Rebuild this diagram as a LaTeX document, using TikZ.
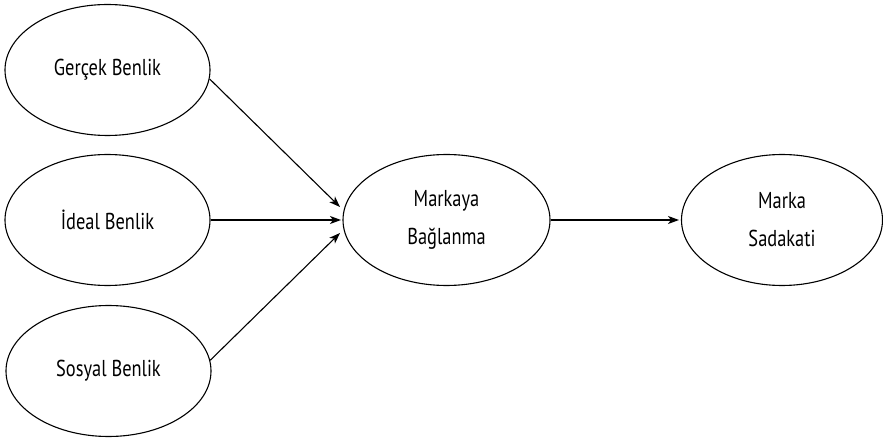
\documentclass[tikz,border=0pt]{standalone}
\usepackage{fontspec}
\setmainfont[FakeStretch=0.8]{PT Sans}
\usetikzlibrary{shapes.geometric,arrows.meta}
\begin{document}
\begin{tikzpicture}[x=1pt,y=-1pt,
  oval/.style={ellipse,draw,line width=1.1pt,minimum width=205pt,minimum height=131pt,inner sep=0pt,align=center,
    font=\fontsize{23}{38}\selectfont},
  conn/.style={line width=1.1pt,-{Stealth[length=11pt,width=8pt,inset=3pt]}}]
\useasboundingbox (0,0) rectangle (883,438);
\node[oval] (g) at (107.5,70) {Gerçek Benlik};
\node[oval] (i) at (107.5,220) {İdeal Benlik};
\node[oval] (s) at (108.5,371) {Sosyal Benlik};
\node[oval,minimum width=207pt] (m) at (446.5,220) {Markaya\\Bağlanma};
\node[oval,minimum width=201pt] (k) at (782,220) {Marka\\Sadakati};
\coordinate (mt) at (340,207);
\coordinate (mc) at (341,220);
\coordinate (mb) at (340,233);
\coordinate (kw) at (679,220);
\draw[conn] (g.-5) -- (mt);
\draw[conn] (i.east) -- (mc);
\draw[conn] (s.6) -- (mb);
\draw[conn] (m.east) -- (kw);
\end{tikzpicture}
\end{document}
